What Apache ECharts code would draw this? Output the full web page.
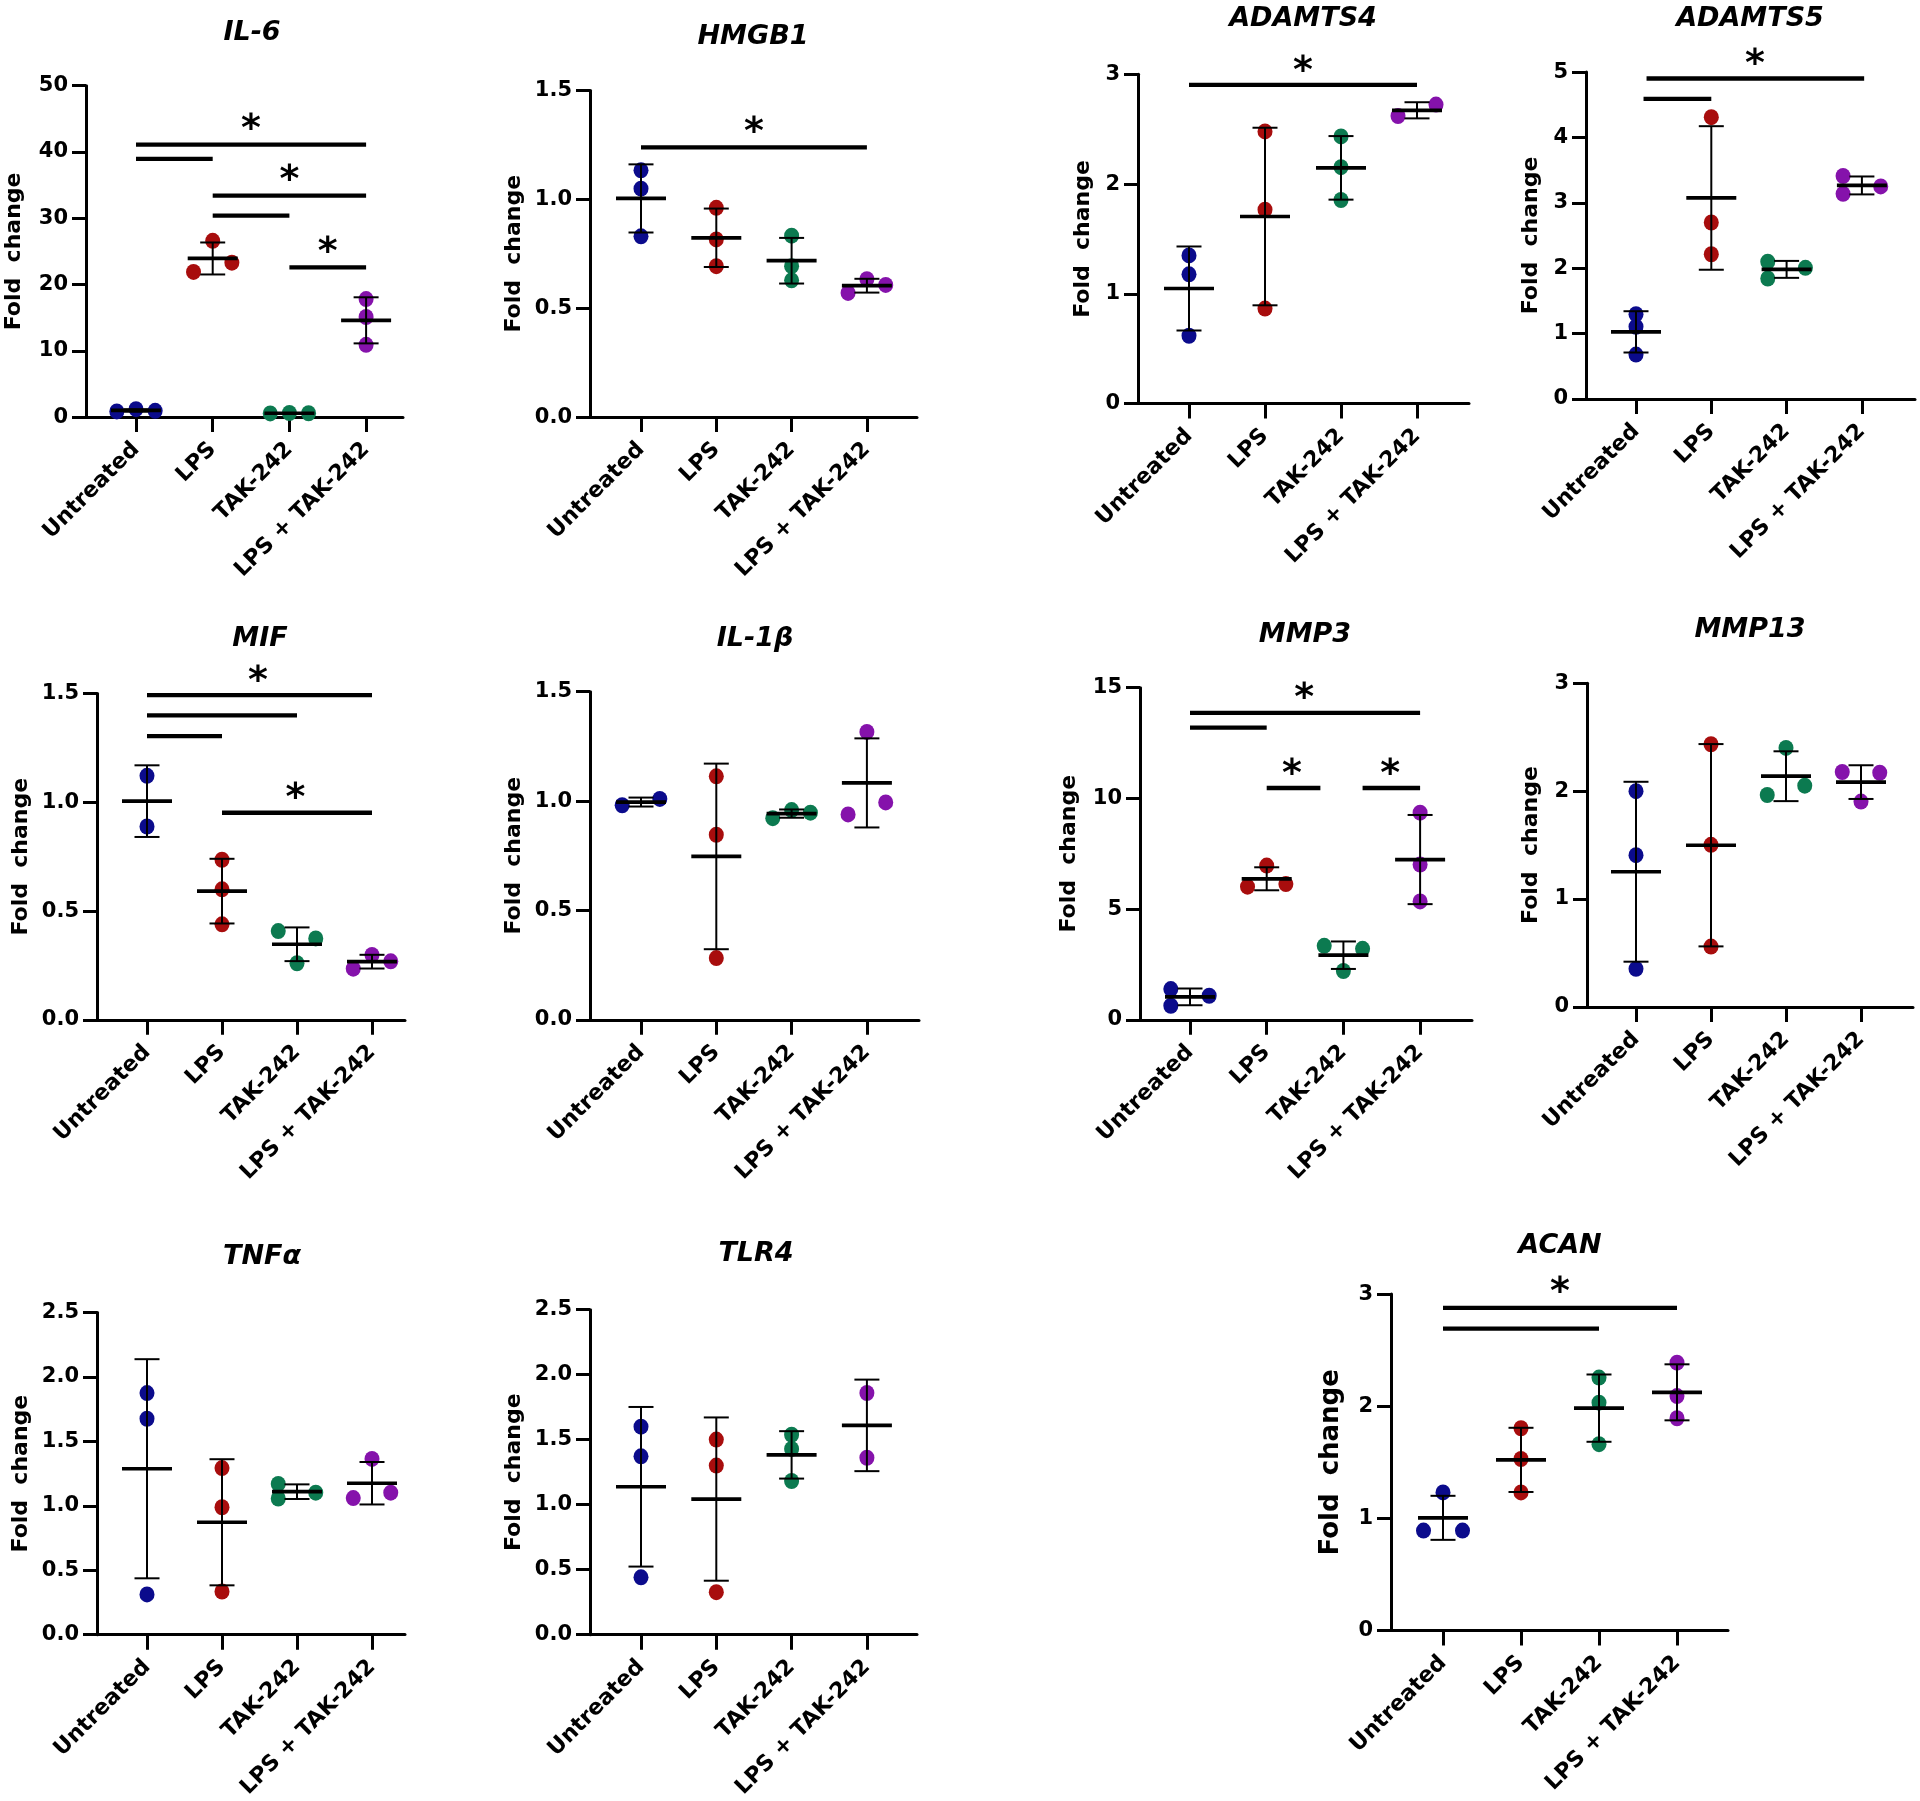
<!DOCTYPE html>
<html>
<head>
<meta charset="utf-8">
<script src="https://cdn.jsdelivr.net/npm/echarts@6/dist/echarts.min.js"></script>
<style>
html,body{margin:0;padding:0;background:#ffffff;}
#chart{width:1920px;height:1801px;}
</style>
</head>
<body>
<div id="chart"></div>
<script>
// ---------------- DATA ----------------
const CATEGORIES = ['Untreated', 'LPS', 'TAK-242', 'LPS + TAK-242'];
const GROUP_COLORS = ['#0b0b8c', '#a80d0d', '#0c7a50', '#8512ab'];
const Y_NAME = 'Fold  change';

// replicate values per group (Untreated, LPS, TAK-242, LPS + TAK-242)
const IL6_VALUES = [[0.85, 1.2, 0.95], [21.9, 26.6, 23.3], [0.55, 0.62, 0.58], [17.8, 15.1, 10.9]];
const IL6_SPREAD = [[-1, 0, 1], [-1, 0, 1], [-1, 0, 1], [0, 0, 0]];
const IL6_TICKS = ['0', '10', '20', '30', '40', '50'];
const IL6_BARS = [[1, 4, 41.1], [1, 2, 38.95], [2, 4, 33.4], [2, 3, 30.4], [3, 4, 22.6]];
const IL6_STARS = [[2.5, 44.6], [3.0, 36.9], [3.5, 26.0]];

const HMGB1_VALUES = [[1.133, 1.049, 0.830], [0.961, 0.816, 0.693], [0.833, 0.693, 0.628], [0.570, 0.633, 0.607]];
const HMGB1_SPREAD = [[0, 0, 0], [0, 0, 0], [0, 0, 0], [-1, 0, 1]];
const HMGB1_TICKS = ['0.0', '0.5', '1.0', '1.5'];
const HMGB1_BARS = [[1, 4, 1.238]];
const HMGB1_STARS = [[2.5, 1.341]];

const ADAMTS4_VALUES = [[1.350, 1.178, 0.618], [2.480, 1.767, 0.866], [2.434, 2.154, 1.855], [2.62, 2.724]];
const ADAMTS4_SPREAD = [[0, 0, 0], [0, 0, 0], [0, 0, 0], [-1, 1]];
const ADAMTS4_TICKS = ['0', '1', '2', '3'];
const ADAMTS4_BARS = [[1, 4, 2.903]];
const ADAMTS4_STARS = [[2.5, 3.093]];

const ADAMTS5_VALUES = [[1.295, 1.104, 0.678], [4.311, 2.699, 2.213], [2.098, 1.842, 2.005], [3.41, 3.137, 3.251]];
const ADAMTS5_SPREAD = [[0, 0, 0], [0, 0, 0], [-1, -1, 1], [-1, -1, 1]];
const ADAMTS5_TICKS = ['0', '1', '2', '3', '4', '5'];
const ADAMTS5_BARS = [[1.14, 4.03, 4.902], [1.1, 2.0, 4.59]];
const ADAMTS5_STARS = [[2.58, 5.23]];

const MIF_VALUES = [[1.122, 0.889], [0.736, 0.600, 0.439], [0.408, 0.374, 0.260], [0.235, 0.298, 0.269]];
const MIF_SPREAD = [[0, 0], [0, 0, 0], [-1, 1, 0], [-1, 0, 1]];
const MIF_TICKS = ['0.0', '0.5', '1.0', '1.5'];
const MIF_BARS = [[1, 4, 1.493], [1, 3, 1.400], [1, 2, 1.304], [2, 4, 0.952]];
const MIF_STARS = [[2.48, 1.590], [2.98, 1.054]];

const IL1B_VALUES = [[0.981, 1.010], [1.113, 0.846, 0.282], [0.922, 0.959, 0.947], [1.316, 0.939, 0.994]];
const IL1B_SPREAD = [[-1, 1], [0, 0, 0], [-1, 0, 1], [0, -1, 1]];
const IL1B_TICKS = ['0.0', '0.5', '1.0', '1.5'];
const IL1B_BARS = [];
const IL1B_STARS = [];

const MMP3_VALUES = [[1.386, 1.086, 0.635], [6.965, 6.013, 6.13], [3.341, 3.207, 2.205], [9.354, 7.015, 5.345]];
const MMP3_SPREAD = [[-1, 1, -1], [0, -1, 1], [-1, 1, 0], [0, 0, 0]];
const MMP3_TICKS = ['0', '5', '10', '15'];
const MMP3_BARS = [[1, 4, 13.863], [1, 2, 13.195], [2, 2.7, 10.47], [3.25, 4, 10.47]];
const MMP3_STARS = [[2.49, 14.87], [2.33, 11.44], [3.61, 11.44]];

const MMP13_VALUES = [[1.999, 1.406, 0.353], [2.434, 1.502, 0.559], [2.40, 1.964, 2.05], [2.177, 2.170, 1.903]];
const MMP13_SPREAD = [[0, 0, 0], [0, 0, 0], [0, -1, 1], [-1, 1, 0]];
const MMP13_TICKS = ['0', '1', '2', '3'];
const MMP13_BARS = [];
const MMP13_STARS = [];

const TNFA_VALUES = [[1.875, 1.676, 0.3125], [1.293, 0.989, 0.335], [1.170, 1.057, 1.102], [1.364, 1.060, 1.102]];
const TNFA_SPREAD = [[0, 0, 0], [0, 0, 0], [-1, -1, 1], [0, -1, 1]];
const TNFA_TICKS = ['0.0', '0.5', '1.0', '1.5', '2.0', '2.5'];
const TNFA_BARS = [];
const TNFA_STARS = [];

const TLR4_VALUES = [[1.600, 1.372, 0.441], [1.501, 1.301, 0.327], [1.538, 1.429, 1.182], [1.859, 1.361]];
const TLR4_SPREAD = [[0, 0, 0], [0, 0, 0], [0, 0, 0], [0, 0]];
const TLR4_TICKS = ['0.0', '0.5', '1.0', '1.5', '2.0', '2.5'];
const TLR4_BARS = [];
const TLR4_STARS = [];

const ACAN_VALUES = [[1.232, 0.892, 0.892], [1.804, 1.530, 1.232], [2.256, 2.032, 1.662], [2.389, 2.091, 1.893]];
const ACAN_SPREAD = [[0, -1, 1], [0, 0, 0], [0, 0, 0], [0, 0, 0]];
const ACAN_TICKS = ['0', '1', '2', '3'];
const ACAN_BARS = [[1, 4, 2.877], [1, 3, 2.692]];
const ACAN_STARS = [[2.5, 3.082]];

const PANELS = [
  {title: 'IL-6',    values: IL6_VALUES,     spread: IL6_SPREAD,     ticks: IL6_TICKS,     bars: IL6_BARS,     stars: IL6_STARS},
  {title: 'HMGB1',   values: HMGB1_VALUES,   spread: HMGB1_SPREAD,   ticks: HMGB1_TICKS,   bars: HMGB1_BARS,   stars: HMGB1_STARS},
  {title: 'ADAMTS4', values: ADAMTS4_VALUES, spread: ADAMTS4_SPREAD, ticks: ADAMTS4_TICKS, bars: ADAMTS4_BARS, stars: ADAMTS4_STARS},
  {title: 'ADAMTS5', values: ADAMTS5_VALUES, spread: ADAMTS5_SPREAD, ticks: ADAMTS5_TICKS, bars: ADAMTS5_BARS, stars: ADAMTS5_STARS},
  {title: 'MIF',     values: MIF_VALUES,     spread: MIF_SPREAD,     ticks: MIF_TICKS,     bars: MIF_BARS,     stars: MIF_STARS},
  {title: 'IL-1β',   values: IL1B_VALUES,    spread: IL1B_SPREAD,    ticks: IL1B_TICKS,    bars: IL1B_BARS,    stars: IL1B_STARS},
  {title: 'MMP3',    values: MMP3_VALUES,    spread: MMP3_SPREAD,    ticks: MMP3_TICKS,    bars: MMP3_BARS,    stars: MMP3_STARS},
  {title: 'MMP13',   values: MMP13_VALUES,   spread: MMP13_SPREAD,   ticks: MMP13_TICKS,   bars: MMP13_BARS,   stars: MMP13_STARS},
  {title: 'TNFα',    values: TNFA_VALUES,    spread: TNFA_SPREAD,    ticks: TNFA_TICKS,    bars: TNFA_BARS,    stars: TNFA_STARS},
  {title: 'TLR4',    values: TLR4_VALUES,    spread: TLR4_SPREAD,    ticks: TLR4_TICKS,    bars: TLR4_BARS,    stars: TLR4_STARS},
  {title: 'ACAN',    values: ACAN_VALUES,    spread: ACAN_SPREAD,    ticks: ACAN_TICKS,    bars: ACAN_BARS,    stars: ACAN_STARS}
];

// ---------------- LAYOUT (pixels) ----------------
// axisX: y-axis line, top: top tick, y0: x-axis line, c1: first category, step: category spacing, xEnd: x-axis end
const LAYOUT = [
  {axisX: 86,   top: 85.7,   y0: 417.1,  c1: 136,  step: 76.7, xEnd: 403,  titleX: 252,  titleY: 33.2,   nameC: 72.5, nameSize: 22},
  {axisX: 590,  top: 90.4,   y0: 417.1,  c1: 641,  step: 75.3, xEnd: 917,  titleX: 753,  titleY: 36.8,   nameC: 77,   nameSize: 22},
  {axisX: 1138, top: 74.3,   y0: 403.6,  c1: 1189, step: 76,   xEnd: 1469, titleX: 1303, titleY: 18.6,   nameC: 56,   nameSize: 22},
  {axisX: 1586, top: 72.1,   y0: 398.9,  c1: 1636, step: 75.3, xEnd: 1915, titleX: 1750, titleY: 18.6,   nameC: 56,   nameSize: 22},
  {axisX: 97,   top: 693.6,  y0: 1019.8, c1: 147,  step: 75,   xEnd: 405,  titleX: 260,  titleY: 638.8,  nameC: 76.5, nameSize: 22},
  {axisX: 590,  top: 691.7,  y0: 1019.8, c1: 641,  step: 75.3, xEnd: 919,  titleX: 755,  titleY: 638.8,  nameC: 77,   nameSize: 22},
  {axisX: 1140, top: 687.7,  y0: 1019.8, c1: 1190, step: 76.7, xEnd: 1472, titleX: 1305, titleY: 635.1,  nameC: 72,   nameSize: 22},
  {axisX: 1587, top: 683.2,  y0: 1006.9, c1: 1636, step: 75,   xEnd: 1913, titleX: 1750, titleY: 629.6,  nameC: 57,   nameSize: 22},
  {axisX: 97,   top: 1312.6, y0: 1638.7, c1: 147,  step: 75,   xEnd: 405,  titleX: 262,  titleY: 1257.1, nameC: 76.5, nameSize: 22},
  {axisX: 590,  top: 1309.7, y0: 1635.0, c1: 641,  step: 75.3, xEnd: 917,  titleX: 756,  titleY: 1254.1, nameC: 77,   nameSize: 22},
  {axisX: 1391, top: 1294.1, y0: 1630.6, c1: 1443, step: 78,   xEnd: 1728, titleX: 1560, titleY: 1245.9, nameC: 61,   nameSize: 26}
];

const FONT = '"DejaVu Sans", "Liberation Sans", Arial, sans-serif';
const SLOT = 0.25;         // horizontal spread of overlapping dots, in category units
const DOT = 15;
const MEAN_HALF = 25, CAP_HALF = 12.5;
const STAR_SIZE = 38;

function meanSd(arr) {
  const n = arr.length;
  const m = arr.reduce((a, b) => a + b, 0) / n;
  const v = n > 1 ? arr.reduce((a, b) => a + (b - m) * (b - m), 0) / (n - 1) : 0;
  return [m, Math.sqrt(v)];
}

const grids = [], xAxes = [], yAxes = [], series = [], graphics = [];

PANELS.forEach((p, i) => {
  const L = LAYOUT[i];
  const c4 = L.c1 + 3 * L.step;
  const tickNums = p.ticks.map(Number);
  grids.push({left: L.axisX, top: L.top, width: L.xEnd - L.axisX, height: L.y0 - L.top, containLabel: false});

  xAxes.push({
    type: 'value', gridIndex: i,
    min: 1 - (L.c1 - L.axisX) / L.step,
    max: 4 + (L.xEnd - c4) / L.step,
    splitLine: {show: false},
    axisLine: {show: true, onZero: false, lineStyle: {color: '#000', width: 3}},
    axisTick: {show: true, customValues: [1, 2, 3, 4], length: 15, lineStyle: {color: '#000', width: 3}},
    axisLabel: {
      show: true, customValues: [1, 2, 3, 4], rotate: 45, margin: 29,
      formatter: v => CATEGORIES[Math.round(v) - 1] || '',
      fontFamily: FONT, fontWeight: 'bold', fontSize: 22, color: '#000'
    }
  });

  yAxes.push({
    type: 'value', gridIndex: i,
    min: tickNums[0], max: tickNums[tickNums.length - 1], interval: tickNums[1] - tickNums[0],
    splitLine: {show: false},
    axisLine: {show: true, onZero: false, lineStyle: {color: '#000', width: 3}},
    axisTick: {show: true, length: 14, lineStyle: {color: '#000', width: 3}},
    axisLabel: {
      margin: 18, fontFamily: FONT, fontWeight: 'bold', fontSize: 21, color: '#000',
      formatter: v => {
        const k = tickNums.findIndex(t => Math.abs(t - v) < 1e-9);
        return k >= 0 ? p.ticks[k] : '';
      }
    },
    name: Y_NAME, nameLocation: 'middle', nameRotate: 90,
    nameGap: L.nameC - L.nameSize * 0.55,
    nameTextStyle: {fontFamily: FONT, fontWeight: 'bold', fontSize: L.nameSize, color: '#000'}
  });

  // dots
  p.values.forEach((vals, g) => {
    series.push({
      type: 'scatter', xAxisIndex: i, yAxisIndex: i, z: 2, silent: true,
      symbol: 'circle', symbolSize: [DOT, DOT + 1],
      itemStyle: {color: GROUP_COLORS[g], opacity: 1, borderWidth: 0},
      data: vals.map((v, k) => [g + 1 + p.spread[g][k] * SLOT, v])
    });
  });

  // mean + SD
  series.push({
    type: 'custom', xAxisIndex: i, yAxisIndex: i, z: 4, silent: true, clip: false,
    data: p.values.map((vals, g) => { const s = meanSd(vals); return [g + 1, s[0], s[1]]; }),
    renderItem: (params, api) => {
      const x = api.value(0), m = api.value(1), sd = api.value(2);
      const pm = api.coord([x, m]), pt = api.coord([x, m + sd]), pb = api.coord([x, m - sd]);
      const st = w => ({stroke: '#000', lineWidth: w});
      return {type: 'group', children: [
        {type: 'line', shape: {x1: pt[0], y1: pt[1], x2: pb[0], y2: pb[1]}, style: st(2)},
        {type: 'line', shape: {x1: pt[0] - CAP_HALF, y1: pt[1], x2: pt[0] + CAP_HALF, y2: pt[1]}, style: st(2)},
        {type: 'line', shape: {x1: pb[0] - CAP_HALF, y1: pb[1], x2: pb[0] + CAP_HALF, y2: pb[1]}, style: st(2)},
        {type: 'line', shape: {x1: pm[0] - MEAN_HALF, y1: pm[1], x2: pm[0] + MEAN_HALF, y2: pm[1]}, style: st(3.7)}
      ]};
    }
  });

  // significance lines
  if (p.bars.length) {
    series.push({
      type: 'custom', xAxisIndex: i, yAxisIndex: i, z: 5, silent: true, clip: false,
      encode: {x: [0, 1], y: 2},
      data: p.bars,
      renderItem: (params, api) => {
        const a = api.coord([api.value(0), api.value(2)]);
        const b = api.coord([api.value(1), api.value(2)]);
        return {type: 'line', shape: {x1: a[0], y1: a[1], x2: b[0], y2: b[1]}, style: {stroke: '#000', lineWidth: 4.3}};
      }
    });
  }
  if (p.stars.length) {
    series.push({
      type: 'custom', xAxisIndex: i, yAxisIndex: i, z: 5, silent: true, clip: false,
      data: p.stars,
      renderItem: (params, api) => {
        const c = api.coord([api.value(0), api.value(1)]);
        return {type: 'text', x: c[0], y: c[1] + STAR_SIZE * 0.22, style: {
          text: '*', fill: '#000', fontFamily: FONT, fontWeight: 'bold', fontSize: STAR_SIZE,
          align: 'center', verticalAlign: 'middle', textAlign: 'center', textVerticalAlign: 'middle'
        }};
      }
    });
  }

  graphics.push({
    type: 'text', x: L.titleX, y: L.titleY, silent: true,
    style: {
      text: p.title, fill: '#000', fontFamily: FONT, fontWeight: 'bold', fontStyle: 'italic', fontSize: 27,
      align: 'center', verticalAlign: 'middle', textAlign: 'center', textVerticalAlign: 'middle'
    }
  });
});

const chart = echarts.init(document.getElementById('chart'), null, {renderer: 'canvas'});
chart.setOption({
  backgroundColor: '#ffffff',
  animation: false,
  grid: grids,
  xAxis: xAxes,
  yAxis: yAxes,
  series: series,
  graphic: graphics
});
</script>
</body>
</html>
